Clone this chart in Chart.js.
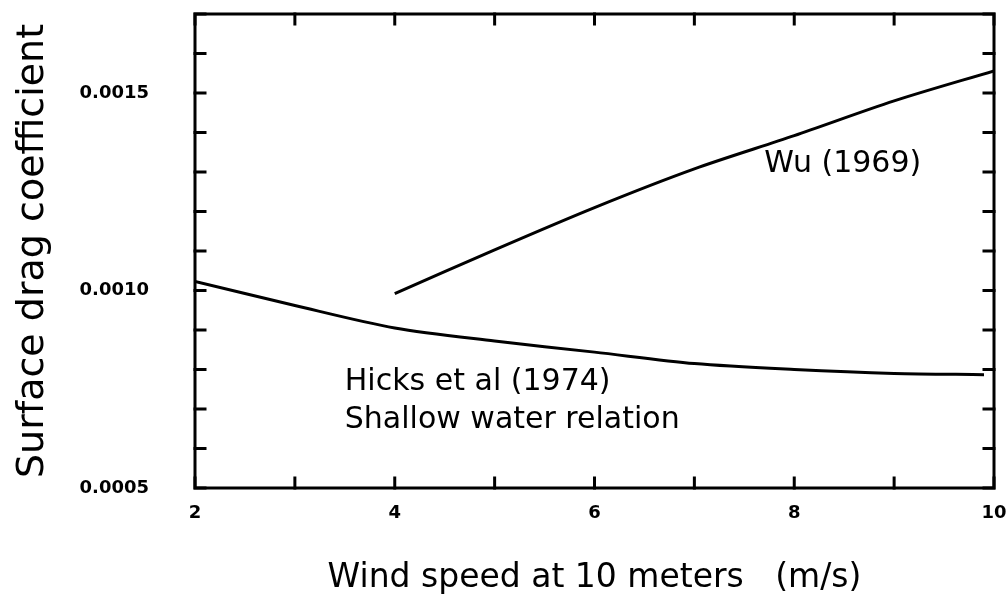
<!DOCTYPE html>
<html>
<head>
<meta charset="utf-8">
<title>Surface drag coefficient vs wind speed</title>
<script src="https://cdn.jsdelivr.net/npm/chart.js@4"></script>
<style>
  html, body { margin: 0; padding: 0; background: #fff; }
  #wrap { width: 1006px; height: 603px; }
</style>
</head>
<body>
<div id="wrap"><canvas id="dragChart"></canvas></div>
<script>
// wind speed at 10 m (m/s)
const wuSpeed = [4, 5, 6, 7, 8, 9, 10];
const wuDrag = [0.000992, 0.001103, 0.00121, 0.001308, 0.001392, 0.00148, 0.001556];

const hicksSpeed = [2, 3, 4, 5, 6, 7, 8, 9, 9.9];
const hicksDrag = [0.001023, 0.000962, 0.000905, 0.000872, 0.000844, 0.000815, 0.0008, 0.00079, 0.000787];

const xTickLabels = [2, 4, 6, 8, 10];
const yTickLabels = [0.0005, 0.0010, 0.0015];

// curve labels, anchored in data units
const curveNotes = [
  { text: "Wu (1969)", x: 7.7, y: 0.00132 },
  { text: "Hicks et al (1974)", x: 3.5, y: 0.000769 },
  { text: "Shallow water relation", x: 3.5, y: 0.000672 }
];

const toPoints = (xs, ys) => xs.map((v, i) => ({ x: v, y: ys[i] }));

const frameTicks = {
  id: "frameTicks",
  afterDraw(chart) {
    const { ctx, chartArea: a, scales: { x, y } } = chart;
    const len = 10;
    ctx.save();
    ctx.strokeStyle = "#000";
    ctx.lineWidth = 3;
    ctx.lineCap = "square";
    ctx.strokeRect(a.left, a.top, a.right - a.left, a.bottom - a.top);
    ctx.beginPath();
    x.ticks.forEach(t => {
      const px = x.getPixelForValue(t.value);
      ctx.moveTo(px, a.bottom); ctx.lineTo(px, a.bottom - len);
      ctx.moveTo(px, a.top); ctx.lineTo(px, a.top + len);
    });
    y.ticks.forEach(t => {
      const py = y.getPixelForValue(t.value);
      ctx.moveTo(a.left, py); ctx.lineTo(a.left + len, py);
      ctx.moveTo(a.right, py); ctx.lineTo(a.right - len, py);
    });
    ctx.stroke();

    ctx.fillStyle = "#000";
    ctx.font = "30px 'DejaVu Sans'";
    ctx.textBaseline = "middle";
    curveNotes.forEach(n => {
      ctx.fillText(n.text, x.getPixelForValue(n.x), y.getPixelForValue(n.y));
    });
    ctx.restore();
  }
};

function init() {
  const ctx = document.getElementById("dragChart");
  new Chart(ctx, {
    type: "scatter",
    data: {
      datasets: [
        {
          label: "Wu (1969)",
          data: toPoints(wuSpeed, wuDrag),
          showLine: true,
          borderColor: "#000",
          borderWidth: 3,
          pointRadius: 0,
          tension: 0.3
        },
        {
          label: "Hicks et al (1974)",
          data: toPoints(hicksSpeed, hicksDrag),
          showLine: true,
          borderColor: "#000",
          borderWidth: 3,
          pointRadius: 0,
          tension: 0.3
        }
      ]
    },
    options: {
      responsive: true,
      maintainAspectRatio: false,
      animation: false,
      layout: { padding: { top: 14, right: 12, left: 0, bottom: 0 } },
      plugins: { legend: { display: false }, tooltip: { enabled: false } },
      scales: {
        x: {
          type: "linear",
          min: 2,
          max: 10,
          grid: { display: false },
          border: { display: false },
          afterFit: s => {
            s.height = 115;
            s.paddingLeft = 0;
            s.paddingRight = 0;
          },
          ticks: {
            stepSize: 1,
            autoSkip: false,
            maxRotation: 0,
            padding: 7,
            color: "#000",
            font: { family: "'DejaVu Sans'", size: 18, weight: "bold" },
            callback: v => xTickLabels.includes(v) ? String(v) : ""
          },
          title: {
            display: true,
            text: "Wind speed at 10 meters   (m/s)",
            color: "#000",
            font: { family: "'DejaVu Sans'", size: 33 },
            padding: { top: 0, bottom: 5 }
          }
        },
        y: {
          min: 0.0005,
          max: 0.0017,
          grid: { display: false },
          border: { display: false },
          afterFit: s => {
            s.width = 195;
            s.paddingTop = 0;
            s.paddingBottom = 0;
          },
          ticks: {
            stepSize: 0.0001,
            autoSkip: false,
            maxTicksLimit: 20,
            padding: 38,
            color: "#000",
            font: { family: "'DejaVu Sans'", size: 18, weight: "bold" },
            callback: v => yTickLabels.some(l => Math.abs(l - v) < 1e-9) ? v.toFixed(4) : ""
          },
          title: {
            display: true,
            text: "Surface drag coefficient",
            color: "#000",
            font: { family: "'DejaVu Sans'", size: 38 },
            padding: { top: 10, bottom: 0 }
          }
        }
      }
    },
    plugins: [frameTicks]
  });
}

document.addEventListener("DOMContentLoaded", init);
</script>
</body>
</html>
